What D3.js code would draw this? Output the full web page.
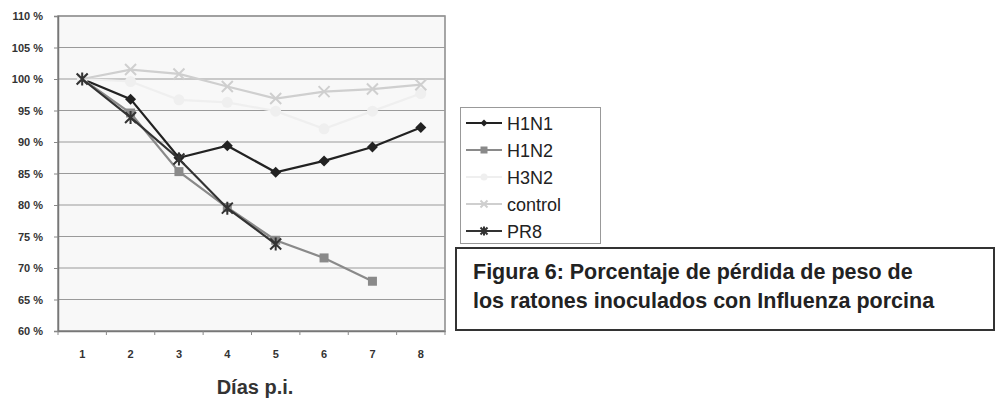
<!DOCTYPE html>
<html>
<head>
<meta charset="utf-8">
<script src="https://cdn.jsdelivr.net/npm/d3@7"></script>
<style>
  body { margin: 0; background: #fff; }
  svg { display: block; font-family: Arial, "Liberation Sans", sans-serif; }
</style>
</head>
<body>
<svg id="chart" width="996" height="399"></svg>
<script>
const days = [1, 2, 3, 4, 5, 6, 7, 8];
const yTicks = [60, 65, 70, 75, 80, 85, 90, 95, 100, 105, 110];

const h1n1 = [100, 96.8, 87.5, 89.4, 85.2, 87.0, 89.2, 92.3];
const h1n2 = [100, 94.6, 85.3, 79.6, 74.4, 71.6, 67.9];
const h3n2 = [100, 99.6, 96.7, 96.3, 94.9, 92.1, 94.9, 97.7];
const control = [100, 101.5, 100.8, 98.8, 96.9, 98.0, 98.4, 99.1];
const pr8 = [100, 93.9, 87.3, 79.5, 73.8];

const seriesNames = ["H1N1", "H1N2", "H3N2", "control", "PR8"];
const seriesValues = [h1n1, h1n2, h3n2, control, pr8];
const seriesColors = ["#222", "#8a8a8a", "#efefef", "#cfcfcf", "#333"];
const seriesMarkers = ["diamond", "square", "circle", "x", "star"];

const svg = d3.select("#chart");
const margin = { left: 58, right: 551, top: 16, bottom: 68 };
const plotW = 996 - margin.left - margin.right;
const plotH = 399 - margin.top - margin.bottom;

const x = d3.scaleBand().domain(days).range([margin.left, margin.left + plotW]);
const y = d3.scaleLinear().domain([60, 110]).range([margin.top + plotH, margin.top]);

// plot background
svg.append("rect")
  .attr("x", margin.left).attr("y", margin.top)
  .attr("width", plotW).attr("height", plotH)
  .attr("fill", "#f8f8f8")
  .attr("stroke", "#8a8a8a").attr("stroke-width", 1.5);

// gridlines
svg.append("g")
  .selectAll("line")
  .data(yTicks)
  .join("line")
  .attr("x1", margin.left).attr("x2", margin.left + plotW)
  .attr("y1", d => y(d)).attr("y2", d => y(d))
  .attr("stroke", "#9a9a9a").attr("stroke-width", 1.2);

// y axis
const yAxis = svg.append("g")
  .attr("transform", `translate(${margin.left},0)`)
  .call(d3.axisLeft(y).tickValues(yTicks).tickSize(4).tickFormat(d => `${d} %`));
yAxis.select(".domain").attr("stroke", "#777").attr("stroke-width", 1.5);
yAxis.selectAll(".tick line").attr("stroke", "#888");
yAxis.selectAll("text")
  .attr("x", -15)
  .style("font-size", "11px").style("font-weight", "bold").attr("fill", "#333");

// x axis
const xAxis = svg.append("g")
  .attr("transform", `translate(0,${margin.top + plotH})`)
  .call(d3.axisBottom(x).tickSize(0).tickPadding(19));
xAxis.select(".domain").attr("stroke", "#777").attr("stroke-width", 1.5);
xAxis.selectAll("text")
  .style("font-size", "11px").style("font-weight", "bold").attr("fill", "#333");
// tick marks between categories
xAxis.selectAll(".sep")
  .data(days.concat([9]))
  .join("line")
  .attr("class", "sep")
  .attr("x1", d => d <= 8 ? x(d) : x(8) + x.bandwidth())
  .attr("x2", d => d <= 8 ? x(d) : x(8) + x.bandwidth())
  .attr("y1", 0).attr("y2", 4)
  .attr("stroke", "#888");

svg.append("text")
  .attr("x", 255)
  .attr("y", 394)
  .attr("text-anchor", "middle")
  .style("font-size", "20px").style("font-weight", "bold")
  .attr("fill", "#333")
  .text("Días p.i.");

// markers
function drawMarker(g, type, color, size) {
  const s = size;
  if (type === "diamond") {
    const h = s / 2;
    g.append("path").attr("d", `M0,${-h}L${h},0L0,${h}L${-h},0Z`)
      .attr("fill", color);
  } else if (type === "square") {
    g.append("rect").attr("x", -s / 2).attr("y", -s / 2).attr("width", s).attr("height", s)
      .attr("fill", color);
  } else if (type === "circle") {
    g.append("circle").attr("r", s / 2).attr("fill", color);
  } else if (type === "x") {
    const h = s / 2;
    g.append("path").attr("d", `M${-h},${-h}L${h},${h}M${-h},${h}L${h},${-h}`)
      .attr("stroke", color).attr("stroke-width", 2);
  } else if (type === "star") {
    const h = s / 2;
    g.append("path")
      .attr("d", `M${-h},${-h}L${h},${h}M${-h},${h}L${h},${-h}M0,${-h - 1}L0,${h + 1}`)
      .attr("stroke", color).attr("stroke-width", 2);
  }
}

const line = d3.line()
  .x((d, i) => x(days[i]) + x.bandwidth() / 2)
  .y(d => y(d));

seriesValues.forEach((vals, k) => {
  svg.append("path")
    .datum(vals)
    .attr("d", line)
    .attr("fill", "none")
    .attr("stroke", seriesColors[k])
    .attr("stroke-width", 2.2);
  vals.forEach((v, i) => {
    const g = svg.append("g")
      .attr("transform", `translate(${x(days[i]) + x.bandwidth() / 2},${y(v)})`);
    drawMarker(g, seriesMarkers[k], seriesColors[k], seriesMarkers[k] === "square" ? 9 : 11);
  });
});

// legend
const legend = svg.append("g");
legend.append("rect")
  .attr("x", 460.5).attr("y", 107.5).attr("width", 140).attr("height", 136)
  .attr("fill", "#fff").attr("stroke", "#999").attr("stroke-width", 1);
seriesNames.forEach((name, k) => {
  const ly = 123 + k * 27;
  const g = legend.append("g");
  g.append("line")
    .attr("x1", 466).attr("x2", 502).attr("y1", ly).attr("y2", ly)
    .attr("stroke", seriesColors[k]).attr("stroke-width", 2);
  const m = g.append("g").attr("transform", `translate(484,${ly})`);
  drawMarker(m, seriesMarkers[k], seriesColors[k], 7);
  g.append("text")
    .attr("x", 507).attr("y", ly + 6.5)
    .style("font-size", "18px").attr("fill", "#222")
    .text(name);
});

// caption box
const cap = svg.append("g");
cap.append("rect")
  .attr("x", 456).attr("y", 248).attr("width", 538).attr("height", 82)
  .attr("fill", "#fff").attr("stroke", "#333").attr("stroke-width", 2);
const capLines = ["Figura 6: Porcentaje de pérdida de peso de", "los ratones inoculados con Influenza porcina"];
cap.selectAll("text")
  .data(capLines)
  .join("text")
  .attr("x", 473)
  .attr("y", (d, i) => 279 + i * 29)
  .style("font-size", "21.5px").style("font-weight", "bold")
  .attr("fill", "#222")
  .text(d => d);
</script>
</body>
</html>
